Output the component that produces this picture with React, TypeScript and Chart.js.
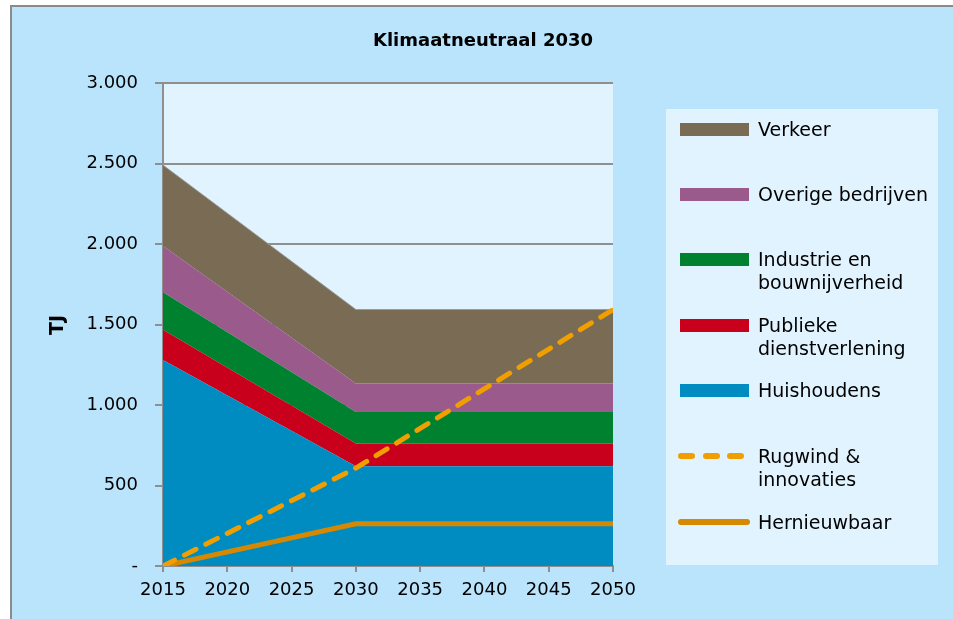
import React, { useEffect, useRef } from 'react';
import { Chart, registerables } from 'chart.js';

Chart.register(...registerables);

// ---- data ----
const years = [2015, 2030, 2050];
const huishoudens = [1280, 620, 620];
const publieke = [188, 141, 141];
const industrie = [233, 195, 195];
const overige = [287, 177, 177];
const verkeer = [502, 460, 460];
const rugwind = [0, 608, 1593];
const hernieuwbaar = [0, 262, 262];

const xMin = 2015;
const xMax = 2050;
const xStep = 5;
const yMin = 0;
const yMax = 3000;
const yStep = 500;

const title = 'Klimaatneutraal 2030';
const yTitle = 'TJ';

const COLORS = {
  verkeer: '#7a6b55',
  overige: '#9b5a8c',
  industrie: '#00812f',
  publieke: '#c9001c',
  huishoudens: '#008bc1',
  rugwind: '#f09e00',
  hernieuwbaar: '#d68800',
};

const FONT = '"DejaVu Sans", sans-serif';

const pts = (vals: number[]) => vals.map((v, i) => ({ x: years[i], y: v }));

const fmt = (v: number) => {
  if (v === 0) return '-';
  const s = String(Math.round(v));
  return s.replace(/\B(?=(\d{3})+(?!\d))/g, '.');
};

const plotBg = {
  id: 'plotBg',
  beforeDraw(chart: any) {
    const { ctx, chartArea } = chart;
    if (!chartArea) return;
    ctx.save();
    ctx.fillStyle = '#e1f3fe';
    ctx.fillRect(chartArea.left, chartArea.top, chartArea.right - chartArea.left, chartArea.bottom - chartArea.top);
    ctx.restore();
  },
};

type LegendItem = { label: string[]; color: string; kind: 'area' | 'dash' | 'line'; cy: number };
const legendItems: LegendItem[] = [
  { label: ['Verkeer'], color: COLORS.verkeer, kind: 'area', cy: 129 },
  { label: ['Overige bedrijven'], color: COLORS.overige, kind: 'area', cy: 194 },
  { label: ['Industrie en', 'bouwnijverheid'], color: COLORS.industrie, kind: 'area', cy: 259 },
  { label: ['Publieke', 'dienstverlening'], color: COLORS.publieke, kind: 'area', cy: 325 },
  { label: ['Huishoudens'], color: COLORS.huishoudens, kind: 'area', cy: 390 },
  { label: ['Rugwind &', 'innovaties'], color: COLORS.rugwind, kind: 'dash', cy: 456 },
  { label: ['Hernieuwbaar'], color: COLORS.hernieuwbaar, kind: 'line', cy: 522 },
];

export default function App() {
  const ref = useRef<HTMLCanvasElement | null>(null);

  useEffect(() => {
    if (!ref.current) return;
    const areaDs = (label: string, data: number[], color: string, fill: any) => ({
      label,
      data: pts(data),
      backgroundColor: color,
      borderColor: color,
      borderWidth: 0,
      pointRadius: 0,
      fill,
      stack: 'sectors',
      order: 10,
      tension: 0,
    });
    const chart = new Chart(ref.current, {
      type: 'line',
      data: {
        datasets: [
          areaDs('Huishoudens', huishoudens, COLORS.huishoudens, 'origin'),
          areaDs('Publieke dienstverlening', publieke, COLORS.publieke, '-1'),
          areaDs('Industrie en bouwnijverheid', industrie, COLORS.industrie, '-1'),
          areaDs('Overige bedrijven', overige, COLORS.overige, '-1'),
          { ...areaDs('Verkeer', verkeer, COLORS.verkeer, '-1'), borderWidth: 1, borderColor: '#9a9a9a' },
          {
            label: 'Rugwind & innovaties',
            data: pts(rugwind),
            borderColor: COLORS.rugwind,
            backgroundColor: COLORS.rugwind,
            borderWidth: 5,
            borderDash: [13, 11],
            borderCapStyle: 'round',
            pointRadius: 0,
            fill: false,
            stack: 'rugwind',
            order: 0,
          },
          {
            label: 'Hernieuwbaar',
            data: pts(hernieuwbaar),
            borderColor: COLORS.hernieuwbaar,
            backgroundColor: COLORS.hernieuwbaar,
            borderWidth: 5,
            pointRadius: 0,
            fill: false,
            stack: 'hernieuwbaar',
            order: 1,
          },
        ] as any,
      },
      options: {
        responsive: false,
        animation: false,
        maintainAspectRatio: false,
        layout: { padding: { left: 0, top: 83, right: 340, bottom: 0 } },
        plugins: {
          legend: { display: false },
          title: { display: false },
          tooltip: { enabled: false },
        },
        scales: {
          x: {
            type: 'linear',
            min: xMin,
            max: xMax,
            ticks: {
              stepSize: xStep,
              color: '#000',
              font: { family: FONT, size: 18 },
              padding: 8,
              maxRotation: 0,
              callback: (v: any) => String(v),
            },
            grid: {
              drawOnChartArea: false,
              drawTicks: true,
              tickLength: 6,
              color: '#8f8f8f',
              lineWidth: 2,
            },
            border: { display: true, color: '#8f8f8f', width: 2 },
            afterFit: (s: any) => { s.height = 53; },
          },
          y: {
            type: 'linear',
            stacked: true,
            min: yMin,
            max: yMax,
            ticks: {
              stepSize: yStep,
              color: '#000',
              font: { family: FONT, size: 18 },
              padding: 17,
              callback: (v: any) => fmt(Number(v)),
            },
            grid: {
              drawOnChartArea: true,
              drawTicks: true,
              tickLength: 8,
              color: '#8f8f8f',
              lineWidth: 2,
            },
            border: { display: true, color: '#8f8f8f', width: 2 },
            afterFit: (s: any) => { s.width = 163; },
          },
        },
      } as any,
      plugins: [plotBg],
    });
    return () => chart.destroy();
  }, []);

  return (
    <div style={{ position: 'fixed', left: 0, top: 0, width: 953, height: 619, background: '#fff', overflow: 'hidden', fontFamily: FONT }}>
      <div
        style={{
          position: 'absolute', left: 10, top: 5, width: 960, height: 630,
          background: '#b9e4fc', borderLeft: '2px solid #8a8a8a', borderTop: '2px solid #8a8a8a',
        }}
      />
      <div
        style={{
          position: 'absolute', left: 666, top: 109, width: 272, height: 456, background: '#e1f3fe',
        }}
      />
      <canvas ref={ref} width={953} height={619} style={{ position: 'absolute', left: 0, top: 0, width: 953, height: 619 }} />
      <div
        style={{
          position: 'absolute', left: 283, width: 400, top: 28, textAlign: 'center',
          fontWeight: 'bold', fontSize: 18, lineHeight: '24px', color: '#000',
        }}
      >
        {title}
      </div>
      <div
        style={{
          position: 'absolute', left: 56, top: 325, transform: 'translate(-50%, -50%) rotate(-90deg)',
          fontWeight: 'bold', fontSize: 19, lineHeight: '24px', color: '#000', whiteSpace: 'nowrap',
        }}
      >
        {yTitle}
      </div>
      {legendItems.map((it, i) => (
        <React.Fragment key={i}>
          {it.kind === 'area' && (
            <div style={{ position: 'absolute', left: 680, top: it.cy - 6.5, width: 69, height: 13, background: it.color }} />
          )}
          {it.kind === 'line' && (
            <div style={{ position: 'absolute', left: 678, top: it.cy - 3, width: 72, height: 6, borderRadius: 3, background: it.color }} />
          )}
          {it.kind === 'dash' &&
            [0, 1, 2].map((d) => (
              <div
                key={d}
                style={{ position: 'absolute', left: 678 + d * 24.5, top: it.cy - 3, width: 17, height: 6, borderRadius: 3, background: it.color }}
              />
            ))}
          <div
            style={{
              position: 'absolute', left: 758, top: it.cy - 11, fontSize: 19, lineHeight: '22.5px', color: '#000', whiteSpace: 'nowrap',
            }}
          >
            {it.label.map((l, j) => (
              <div key={j}>{l}</div>
            ))}
          </div>
        </React.Fragment>
      ))}
    </div>
  );
}
